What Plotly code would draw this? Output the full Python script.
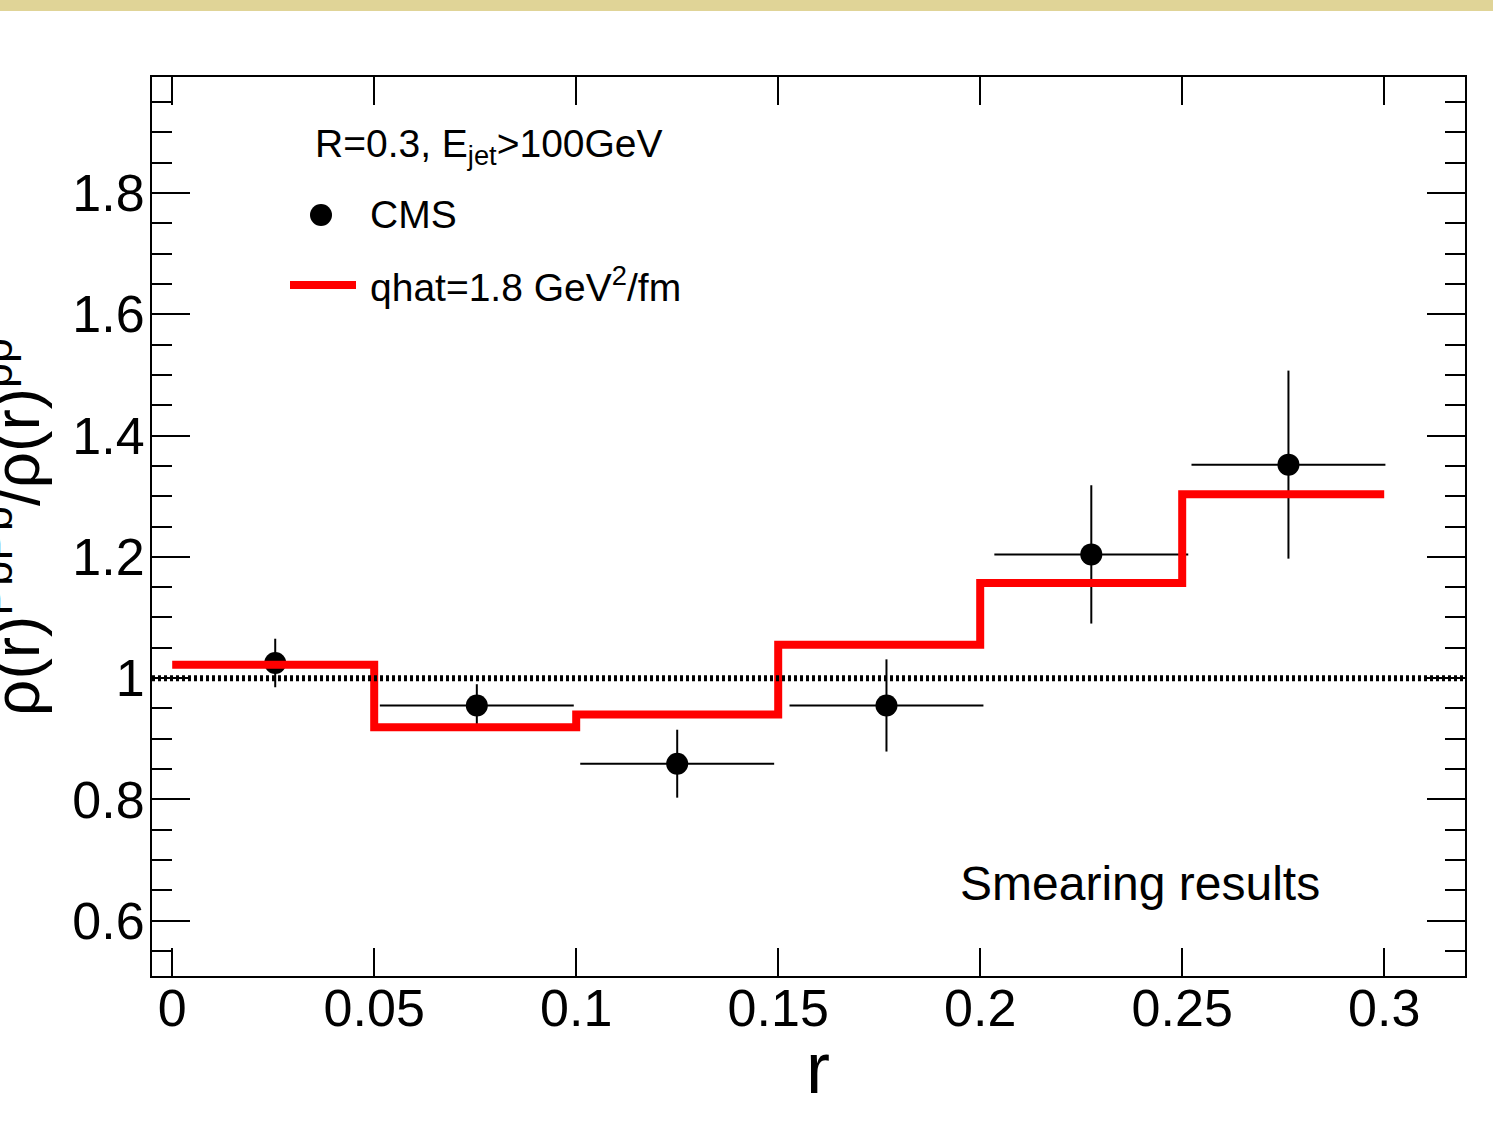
import plotly.graph_objects as go

# ---- data ----
cms_r = [0.0255, 0.0754, 0.1250, 0.1768, 0.2275, 0.2763]
cms_ratio = [1.025, 0.955, 0.859, 0.955, 1.204, 1.352]
cms_err_y = [0.040, 0.035, 0.056, 0.076, 0.114, 0.155]
cms_err_x = [0.024, 0.024, 0.024, 0.024, 0.024, 0.024]

bin_edges = [0.0, 0.05, 0.10, 0.15, 0.20, 0.25, 0.30]
qhat_ratio = [1.022, 0.919, 0.940, 1.055, 1.157, 1.303]

x_tickvals = [0.0, 0.05, 0.10, 0.15, 0.20, 0.25, 0.30]
x_ticktext = ["0", "0.05", "0.1", "0.15", "0.2", "0.25", "0.3"]
y_tickvals = [0.6, 0.8, 1.0, 1.2, 1.4, 1.6, 1.8]
y_ticktext = ["0.6", "0.8", "1", "1.2", "1.4", "1.6", "1.8"]

X_RANGE = [-0.005, 0.32]
Y_RANGE = [0.509, 1.991]

W, H = 1493, 1126
ML, MR, MT, MB = 152, 28, 77, 150
PW, PH = W - ML - MR, H - MT - MB
FONT = "Liberation Sans, Arial, sans-serif"


def px(x, y):
    return (x - ML) / PW, (H - MB - y) / PH


fig = go.Figure()

# CMS points
fig.add_trace(go.Scatter(
    x=cms_r, y=cms_ratio, mode="markers",
    marker=dict(color="black", size=22),
    error_y=dict(type="data", array=cms_err_y, color="black", thickness=2, width=0),
    error_x=dict(type="data", array=cms_err_x, color="black", thickness=2, width=0),
    showlegend=False, cliponaxis=False,
))

# qhat step histogram
fig.add_trace(go.Scatter(
    x=bin_edges, y=qhat_ratio + [qhat_ratio[-1]], mode="lines",
    line=dict(color="#ff0000", width=8, shape="hv"),
    showlegend=False,
))

# reference line at 1
fig.add_trace(go.Scatter(
    x=X_RANGE, y=[1.0, 1.0], mode="lines",
    line=dict(color="black", width=6, dash="3px,3px"),
    showlegend=False,
))

shapes = []
# top gold band
shapes.append(dict(type="rect", xref="paper", yref="paper",
                   x0=px(-10, 0)[0], x1=px(W + 10, 0)[0],
                   y0=px(0, 11)[1], y1=px(0, -5)[1],
                   fillcolor="#e0d497", line=dict(width=0), layer="below"))
# legend red line sample
lx0, ly = px(290, 285)
lx1, _ = px(356, 285)
shapes.append(dict(type="line", xref="paper", yref="paper",
                   x0=lx0, x1=lx1, y0=ly, y1=ly,
                   line=dict(color="#ff0000", width=8)))
# legend marker sample
r0x, r0y = px(310, 204)
r1x, r1y = px(332, 226)
shapes.append(dict(type="circle", xref="paper", yref="paper",
                   x0=r0x, x1=r1x, y0=r1y, y1=r0y,
                   fillcolor="black", line=dict(color="black", width=0)))

annotations = []


def ann(text, x, y, size, xanchor="left", yanchor="middle", **kw):
    xp, yp = px(x, y)
    annotations.append(dict(text=text, x=xp, y=yp, xref="paper", yref="paper",
                            xanchor=xanchor, yanchor=yanchor, showarrow=False,
                            font=dict(family=FONT, size=size, color="black"), **kw))


ann("R=0.3, E<sub>jet</sub>>100GeV", 313, 147, 39)
ann("CMS", 368, 215, 39)
ann("qhat=1.8 GeV<sup>2</sup>/fm", 368, 284, 39)
ann("Smearing results", 958, 883, 48)
ann("r", 818, 1068, 72, xanchor="center")
ann("ρ(r)<sup>PbPb</sup>/ρ(r)<sup>pp</sup>", 55, 527, 64, xanchor="right", textangle=-90)

axis_common = dict(
    showline=True, linecolor="black", linewidth=2, mirror="ticks",
    ticks="inside", tickcolor="black", tickwidth=2,
    showgrid=False, zeroline=False,
    tickfont=dict(family=FONT, size=52, color="black"),
)

fig.update_layout(
    width=W, height=H,
    margin=dict(l=ML, r=MR, t=MT, b=MB, pad=0),
    paper_bgcolor="white", plot_bgcolor="white",
    xaxis=dict(range=X_RANGE, tickvals=x_tickvals, ticktext=x_ticktext, ticklen=28,
               ticklabelstandoff=-14, **axis_common),
    yaxis=dict(range=Y_RANGE, tickvals=y_tickvals, ticktext=y_ticktext, ticklen=38,
               ticklabelstandoff=-5,
               minor=dict(ticks="inside", ticklen=20, tickcolor="black", tickwidth=2, dtick=0.05, tick0=0),
               **axis_common),
    shapes=shapes, annotations=annotations,
)

fig.write_html("out.html", config={"displayModeBar": False},
               post_script="document.body.style.margin='0';")
